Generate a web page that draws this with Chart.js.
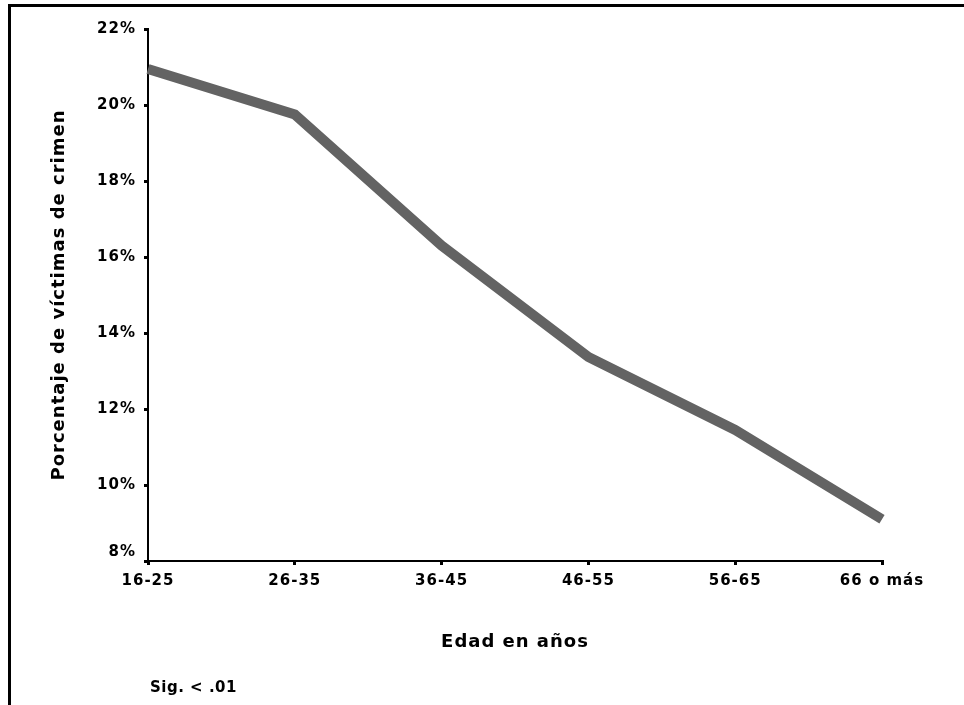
<!DOCTYPE html>
<html lang="es">
<head>
<meta charset="utf-8">
<title>Víctimas de crimen por edad</title>
<script src="https://cdn.jsdelivr.net/npm/chart.js@4/dist/chart.umd.min.js"></script>
<style>
    html, body { margin: 0; padding: 0; background: #fff; overflow: hidden; }
    #marco {
        position: absolute; left: 8px; top: 4px;
        width: 2000px; height: 2000px;
        border-top: 3px solid #000; border-left: 3px solid #000;
    }
    #caja { position: absolute; left: 0; top: 0; width: 964px; height: 705px; }
</style>
</head>
<body>
<div id="marco"></div>
<div id="caja"><canvas id="grafico"></canvas></div>
<script>
// Datos
const edades = ['16-25', '26-35', '36-45', '46-55', '56-65', '66 o más'];
const porcentajes = [20.95, 19.75, 16.3, 13.37, 11.45, 9.1];
const ticksY = [8, 10, 12, 14, 16, 18, 20, 22];

const fuente = '"DejaVu Sans", Verdana, sans-serif';

// Letras un poco separadas como en el original
const espaciado = {
    id: 'espaciado',
    beforeLayout(chart) { chart.ctx.letterSpacing = '1px'; },
    beforeDraw(chart) { chart.ctx.letterSpacing = '1px'; }
};

// Nota al pie "Sig. < .01"
const nota = {
    id: 'nota',
    afterDraw(chart) {
        const ctx = chart.ctx;
        ctx.save();
        ctx.letterSpacing = '0.5px';
        ctx.font = 'bold 15px ' + fuente;
        ctx.fillStyle = '#000';
        ctx.textAlign = 'left';
        ctx.textBaseline = 'middle';
        ctx.fillText('Sig. < .01', 150, 688);
        ctx.restore();
    }
};

new Chart(document.getElementById('grafico'), {
    type: 'line',
    data: {
        labels: edades,
        datasets: [{
            data: porcentajes,
            borderColor: '#636363',
            borderWidth: 10,
            borderJoinStyle: 'miter',
            pointRadius: 0,
            tension: 0,
            fill: false
        }]
    },
    options: {
        responsive: true,
        maintainAspectRatio: false,
        animation: false,
        layout: { padding: { top: 29, right: 82, left: 0, bottom: 0 } },
        plugins: {
            legend: { display: false },
            tooltip: { enabled: false }
        },
        scales: {
            x: {
                offset: false,
                afterFit: (scale) => { scale.height = 144; },
                border: { display: true, color: '#000', width: 2 },
                grid: { drawOnChartArea: false, drawTicks: true, tickLength: 4, lineWidth: 3, color: '#000' },
                ticks: { color: '#000', font: { family: fuente, size: 15, weight: 'bold' }, padding: 7, maxRotation: 0 },
                title: {
                    display: true,
                    text: 'Edad en años',
                    color: '#000',
                    font: { family: fuente, size: 18, weight: 'bold' },
                    padding: { top: 0, bottom: 52 }
                }
            },
            y: {
                min: 8,
                max: 22,
                afterFit: (scale) => { scale.width = 148; },
                afterBuildTicks: (scale) => { scale.ticks = ticksY.map(v => ({ value: v })); },
                border: { display: true, color: '#000', width: 2 },
                grid: { drawOnChartArea: false, drawTicks: true, tickLength: 4, lineWidth: 3, color: '#000' },
                ticks: {
                    color: '#000',
                    font: { family: fuente, size: 15, weight: 'bold' },
                    padding: 8,
                    // el 8% va un poco más arriba para no chocar con el eje x
                    callback: (v) => v === 8 ? [v + '%', ''] : v + '%'
                },
                title: {
                    display: true,
                    text: 'Porcentaje de víctimas de crimen',
                    color: '#000',
                    font: { family: fuente, size: 18, weight: 'bold' },
                    padding: { top: 49, bottom: 0 }
                }
            }
        }
    },
    plugins: [espaciado, nota]
});
</script>
</body>
</html>
